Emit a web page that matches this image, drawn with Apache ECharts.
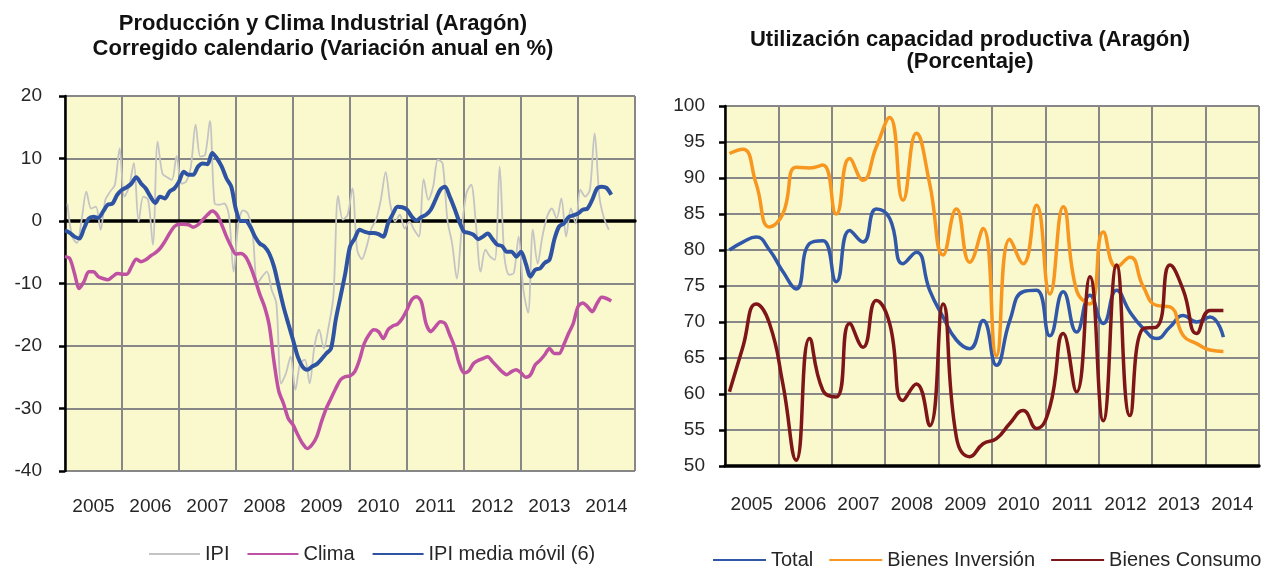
<!DOCTYPE html>
<html>
  <head>
    <meta charset="utf-8" />
  </head>
  <body style="margin: 0; background: #fff;">
    <div id="container" style="width: 1267px; height: 567px;"></div>
    <script src="https://cdn.jsdelivr.net/npm/echarts@6.0.0/dist/echarts.min.js"></script>
    <script type="text/javascript">
      // year labels for both charts
      var years = ["2005", "2006", "2007", "2008", "2009", "2010", "2011", "2012", "2013", "2014"];

      // left chart, monthly from Jan 2005 (variacion anual %)
      var ipi = [
        2.8, -2.5, -3.5, 0.2, 4.7, 2.0, 2.3, -1.4, 3.4, 4.7,
        5.8, 11.6, 3.9, 5.5, 9.3, -0.1, 3.9, 3.4, -3.8, 12.7,
        7.6, 7.0, 6.6, 10.4, 6.0, 6.3, 8.7, 15.4, 10.3, 10.6,
        16.0, 2.8, 2.6, 2.8, 1.0, -8.1, -0.4, 1.7, 1.2, -2.0,
        -10.0, -8.9, -8.1, -11.0, -13.2, -26.0, -24.4, -21.7, -27.0, -22.8,
        -22.2, -26.0, -20.1, -17.4, -20.4, -16.9, -12.1, 4.0, 0.2, 1.0,
        5.2, -4.6, -6.1, -4.1, -1.2, 0.2, 3.4, 7.8, 2.6, -0.1,
        1.0, -1.2, -0.1, -1.4, -2.5, 6.7, 3.4, 5.5, 9.8, 9.2,
        0.2, -3.6, -9.2, -1.4, 4.4, 5.8, -0.4, -8.1, -4.6, -5.7,
        -6.2, 8.7, -5.7, -8.6, -8.3, -2.5, -11.0, -14.7, -1.4, -6.8,
        -2.5, 0.7, 2.0, 0.4, 3.6, -2.5, 2.0, -0.4, 5.0, 3.9,
        5.0, 14.0, 3.9, 0.4, -1.4
      ];
      var clima = [
        -5.7, -6.0, -8.4, -10.8, -9.7, -8.1, -8.1, -8.9, -9.2, -9.4,
        -8.9, -8.4, -8.5, -8.5, -7.3, -6.1, -6.5, -6.2, -5.6, -5.1,
        -4.4, -3.3, -2.0, -0.9, -0.5, -0.5, -0.6, -1.0, -0.6, 0.2,
        1.0, 1.6, 1.0, -0.6, -2.5, -4.1, -5.3, -5.2, -5.7, -7.2,
        -9.3, -11.7, -13.7, -16.7, -22.5, -27.2, -29.2, -31.6, -32.6, -34.2,
        -35.6, -36.4, -35.8, -34.5, -32.1, -30.0, -28.4, -26.8, -25.4, -24.9,
        -24.8, -24.1, -22.2, -19.6, -18.2, -17.4, -17.7, -18.8, -17.4, -16.8,
        -16.5, -15.6, -14.2, -12.6, -12.1, -12.9, -16.4, -17.7, -16.9, -16.1,
        -16.4, -18.2, -20.1, -22.8, -24.3, -24.0, -22.8, -22.3, -22.0, -21.7,
        -22.5, -23.3, -24.1, -24.6, -24.1, -23.8, -24.3, -25.0, -24.6, -23.0,
        -22.3, -21.4, -20.4, -21.2, -21.2, -19.8, -18.0, -16.4, -13.7, -13.1,
        -13.7, -14.5, -13.2, -12.2, -12.4, -12.8
      ];
      var ipiMedia = [
        -1.5, -1.9, -2.5, -2.8, -1.2, 0.4, 0.7, 0.5, 1.5, 2.6,
        2.8, 4.2, 5.0, 5.4, 6.0, 7.0, 6.0, 5.2, 3.9, 2.9,
        3.9, 3.6, 4.7, 5.2, 6.3, 7.9, 7.4, 7.4, 8.7, 9.2,
        9.1, 10.9, 10.0, 8.7, 6.8, 5.5, 1.8, 0.0, 0.0, -0.9,
        -2.5, -3.6, -4.1, -5.2, -7.3, -10.5, -13.7, -16.4, -19.0, -21.7,
        -23.3, -23.8, -23.3, -22.9, -22.1, -21.2, -20.4, -15.8, -12.1, -8.4,
        -4.1, -2.8, -1.4, -1.7, -1.9, -1.9, -2.1, -2.5, -0.4, 1.1,
        2.3, 2.2, 1.8, 0.7, 0.1, 0.6, 1.0, 1.8, 3.4, 5.0,
        5.5, 3.9, 2.0, -0.1, -1.7, -1.9, -2.2, -2.9, -2.5, -2.0,
        -2.9, -3.8, -4.0, -4.9, -4.9, -5.7, -4.9, -6.8, -8.9, -7.8,
        -7.6, -6.7, -6.2, -3.0, -0.9, -0.4, 0.6, 0.9, 1.2, 1.8,
        2.0, 3.4, 5.2, 5.5, 5.3, 4.2
      ];

      // right chart, quarterly from Q1 2005 (porcentaje)
      var total = [
        80.0, 81.1, 81.8, 80.0, 77.0, 74.6, 80.9, 81.3, 75.6, 82.7,
        81.1, 85.7, 84.4, 78.1, 79.7, 74.4, 70.7, 67.5, 66.3, 70.2,
        64.0, 70.2, 74.2, 74.4, 68.1, 74.2, 68.6, 73.7, 69.8, 74.4,
        71.4, 69.1, 67.7, 69.3, 70.9, 70.0, 70.7, 67.9
      ];
      var inversion = [
        93.4, 94.0, 89.2, 83.2, 85.0, 91.5, 91.4, 91.8, 85.0, 92.7,
        89.7, 94.3, 98.4, 86.9, 96.2, 89.2, 79.3, 85.7, 78.3, 83.0,
        65.3, 81.5, 78.1, 86.2, 73.9, 86.0, 74.4, 72.5, 82.5, 77.6,
        79.0, 74.9, 72.3, 72.1, 68.1, 67.0, 66.1, 65.9
      ];
      var consumo = [
        60.3, 66.5, 72.5, 69.8, 61.4, 50.8, 67.7, 60.5, 59.6, 69.8,
        66.5, 73.0, 69.8, 59.1, 61.4, 55.6, 72.5, 54.0, 51.3, 53.1,
        53.8, 55.9, 57.7, 55.2, 58.2, 68.4, 60.3, 76.3, 56.3, 77.9,
        57.0, 69.1, 69.3, 77.9, 74.4, 68.4, 71.6, 71.6
      ];

      var FONT = "'Liberation Sans', Arial, sans-serif";
      var TXT = "#262626";
      var GRIDC = "#878787";
      var BG = "#FAF8CD";

      function monthly(vals, off) {
        return vals.map(function (v, i) {
          return [2005 + (i + off) / 12, v];
        });
      }
      function quarterly(vals) {
        return vals.map(function (v, i) {
          return [2005 + 1 / 12 + i / 4, v];
        });
      }

      function timeAxis(g, onZero) {
        return {
          gridIndex: g,
          type: "value",
          min: 2005,
          max: 2015,
          interval: 1,
          axisLine: { show: true, onZero: onZero, lineStyle: { color: "#000", width: 3.5 } },
          axisTick: { show: false },
          axisLabel: { show: false },
          splitLine: { show: true, lineStyle: { color: GRIDC, width: 2 } },
        };
      }
      function yearAxis(g, margin) {
        return {
          gridIndex: g,
          type: "category",
          data: years,
          boundaryGap: true,
          position: "bottom",
          axisLine: { show: false, onZero: false },
          axisTick: { show: false },
          splitLine: { show: false },
          axisLabel: { interval: 0, fontSize: 19, color: TXT, fontFamily: FONT, margin: margin },
        };
      }
      function valAxis(g, min, max, step, margin) {
        return {
          gridIndex: g,
          type: "value",
          min: min,
          max: max,
          interval: step,
          axisLine: { show: true, onZero: false, lineStyle: { color: "#000", width: 2.5 } },
          axisTick: { show: true, length: 6, lineStyle: { color: "#000", width: 2.5 } },
          axisLabel: { fontSize: 19, color: TXT, fontFamily: FONT, margin: margin },
          splitLine: { show: true, lineStyle: { color: GRIDC, width: 2 } },
        };
      }
      function line(name, data, xi, yi, color, width, smooth) {
        return {
          name: name,
          type: "line",
          xAxisIndex: xi,
          yAxisIndex: yi,
          data: data,
          showSymbol: false,
          smooth: smooth,
          lineStyle: { color: color, width: width },
          itemStyle: { color: color },
          emphasis: { disabled: true },
        };
      }
      var legendText = { fontSize: 20, color: TXT, fontFamily: FONT };
      var titleText = { fontSize: 22, fontWeight: "bold", color: "#111", fontFamily: FONT };

      var myChart = echarts.init(document.getElementById("container"));
      var option = {
        animation: false,
        backgroundColor: "#fff",
        title: [
          {
            text: "Producción y Clima Industrial (Aragón)\nCorregido calendario (Variación anual en %)",
            left: 318,
            top: 6,
            textAlign: "center",
            textStyle: Object.assign({ lineHeight: 25 }, titleText),
          },
          {
            text: "Utilización capacidad productiva (Aragón)\n(Porcentaje)",
            left: 965,
            top: 24,
            textAlign: "center",
            textStyle: Object.assign({ lineHeight: 22 }, titleText),
          },
        ],
        legend: [
          {
            data: ["IPI", "Clima", "IPI media móvil (6)"],
            left: 144,
            top: 539,
            icon: "rect",
            itemWidth: 51,
            itemHeight: 2,
            itemGap: 18,
            textStyle: legendText,
          },
          {
            data: ["Total", "Bienes Inversión", "Bienes Consumo"],
            left: 708,
            top: 545,
            width: 559,
            icon: "rect",
            itemWidth: 53,
            itemHeight: 2,
            itemGap: 16,
            textStyle: legendText,
          },
        ],
        grid: [
          { left: 65, top: 96, width: 570, height: 375, show: true, backgroundColor: BG, borderWidth: 0, outerBoundsMode: "none" },
          { left: 725, top: 106, width: 534, height: 360, show: true, backgroundColor: BG, borderWidth: 0, outerBoundsMode: "none" },
        ],
        xAxis: [timeAxis(0, true), yearAxis(0, 26), timeAxis(1, false), yearAxis(1, 29)],
        yAxis: [valAxis(0, -40, 20, 10, 23), valAxis(1, 50, 100, 5, 20)],
        series: [
          line("IPI", monthly(ipi, 0.5), 0, 0, "#C4C4C4", 1.8, 0.3),
          line("Clima", monthly(clima, 0), 0, 0, "#BF51A2", 3.5, 0.3),
          line("IPI media móvil (6)", monthly(ipiMedia, 0), 0, 0, "#2F53A3", 4, 0.3),
          line("Total", quarterly(total), 2, 1, "#3158A8", 3.5, 0.5),
          line("Bienes Inversión", quarterly(inversion), 2, 1, "#F7971F", 3.5, 0.5),
          line("Bienes Consumo", quarterly(consumo), 2, 1, "#7E1518", 3.5, 0.5),
        ],
      };
      myChart.setOption(option);
    </script>
  </body>
</html>
